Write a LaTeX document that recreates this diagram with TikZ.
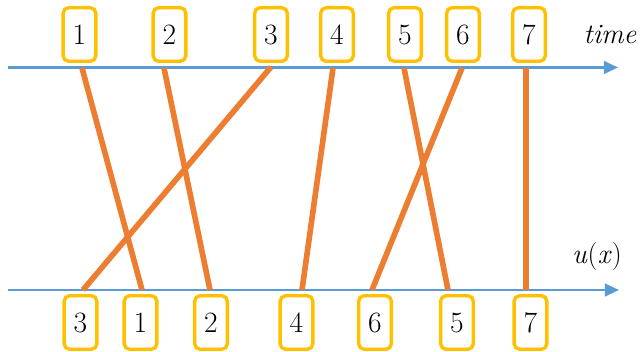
\documentclass[tikz,border=0pt]{standalone}
\usepackage{xcolor}
\usetikzlibrary{arrows.meta}
\usetikzlibrary{positioning}

\definecolor{boxyellow}{HTML}{FFC000}
\definecolor{lineorange}{HTML}{ED7D31}
\definecolor{axisblue}{HTML}{5B9BD5}

\begin{document}
\begin{tikzpicture}[
        x=0.025cm, y=-0.025cm,
        %
        num node/.style={
            rectangle,
            rounded corners=4pt,
            draw=boxyellow,
            line width=2.4pt,
            fill=white,
            minimum width=0.82cm,
            minimum height=1.34cm,
            inner sep=0pt,
            font=\rmfamily\fontsize{21}{25}\selectfont,
        },
        label node/.style={font=\rmfamily\fontsize{20}{24}\selectfont\itshape},
        %
        axis edge/.style={-{Triangle[length=10pt,width=9pt]}, axisblue, line width=1.6pt},
        map edge/.style={lineorange, line width=4pt}
        ]
        \useasboundingbox (0,0) rectangle (640,352);

        % Axes

        \coordinate (T-start) at (8,67.5);
        \coordinate (T-end) at (618,67.5);
        \coordinate (U-start) at (8,290);
        \coordinate (U-end) at (619,290);
        \draw[axis edge] (T-start) -- (T-end);
        \draw[axis edge] (U-start) -- (U-end);

        \node[label node] (time) at (610,35) {time};
        \node[label node] (ux) at (597,256) {u\textup{(}x\textup{)}};

        % Vertices

        \node[num node] (T1) at (79.5,34.5) {1};
        \node[num node] (T2) at (169.5,34.5) {2};
        \node[num node] (T3) at (271,34.5) {3};
        \node[num node] (T4) at (337,34.5) {4};
        \node[num node] (T5) at (405,34.5) {5};
        \node[num node] (T6) at (463,34.5) {6};
        \node[num node] (T7) at (529,34.5) {7};

        \node[num node] (B3) at (80.5,322.5) {3};
        \node[num node] (B1) at (140.5,322.5) {1};
        \node[num node] (B2) at (211,322.5) {2};
        \node[num node] (B4) at (296.5,322.5) {4};
        \node[num node] (B6) at (375,322.5) {6};
        \node[num node] (B5) at (457,322.5) {5};
        \node[num node] (B7) at (530.5,322.5) {7};

        % Ends on the axes

        \coordinate (t1) at (82,68);
        \coordinate (t2) at (164,68);
        \coordinate (t3) at (271,67);
        \coordinate (t4) at (333,68);
        \coordinate (t5) at (404,68);
        \coordinate (t6) at (462,68);
        \coordinate (t7) at (526,68);

        \coordinate (b1) at (142,290);
        \coordinate (b2) at (210,290);
        \coordinate (b3) at (83,290);
        \coordinate (b4) at (302,290);
        \coordinate (b5) at (448,290);
        \coordinate (b6) at (372,290);
        \coordinate (b7) at (526,290);

        % Edges

        \draw[map edge] (t1) -- (b1);
        \draw[map edge] (t2) -- (b2);
        \draw[map edge] (t3) -- (b3);
        \draw[map edge] (t4) -- (b4);
        \draw[map edge] (t5) -- (b5);
        \draw[map edge] (t6) -- (b6);
        \draw[map edge] (t7) -- (b7);
    \end{tikzpicture}
\end{document}
